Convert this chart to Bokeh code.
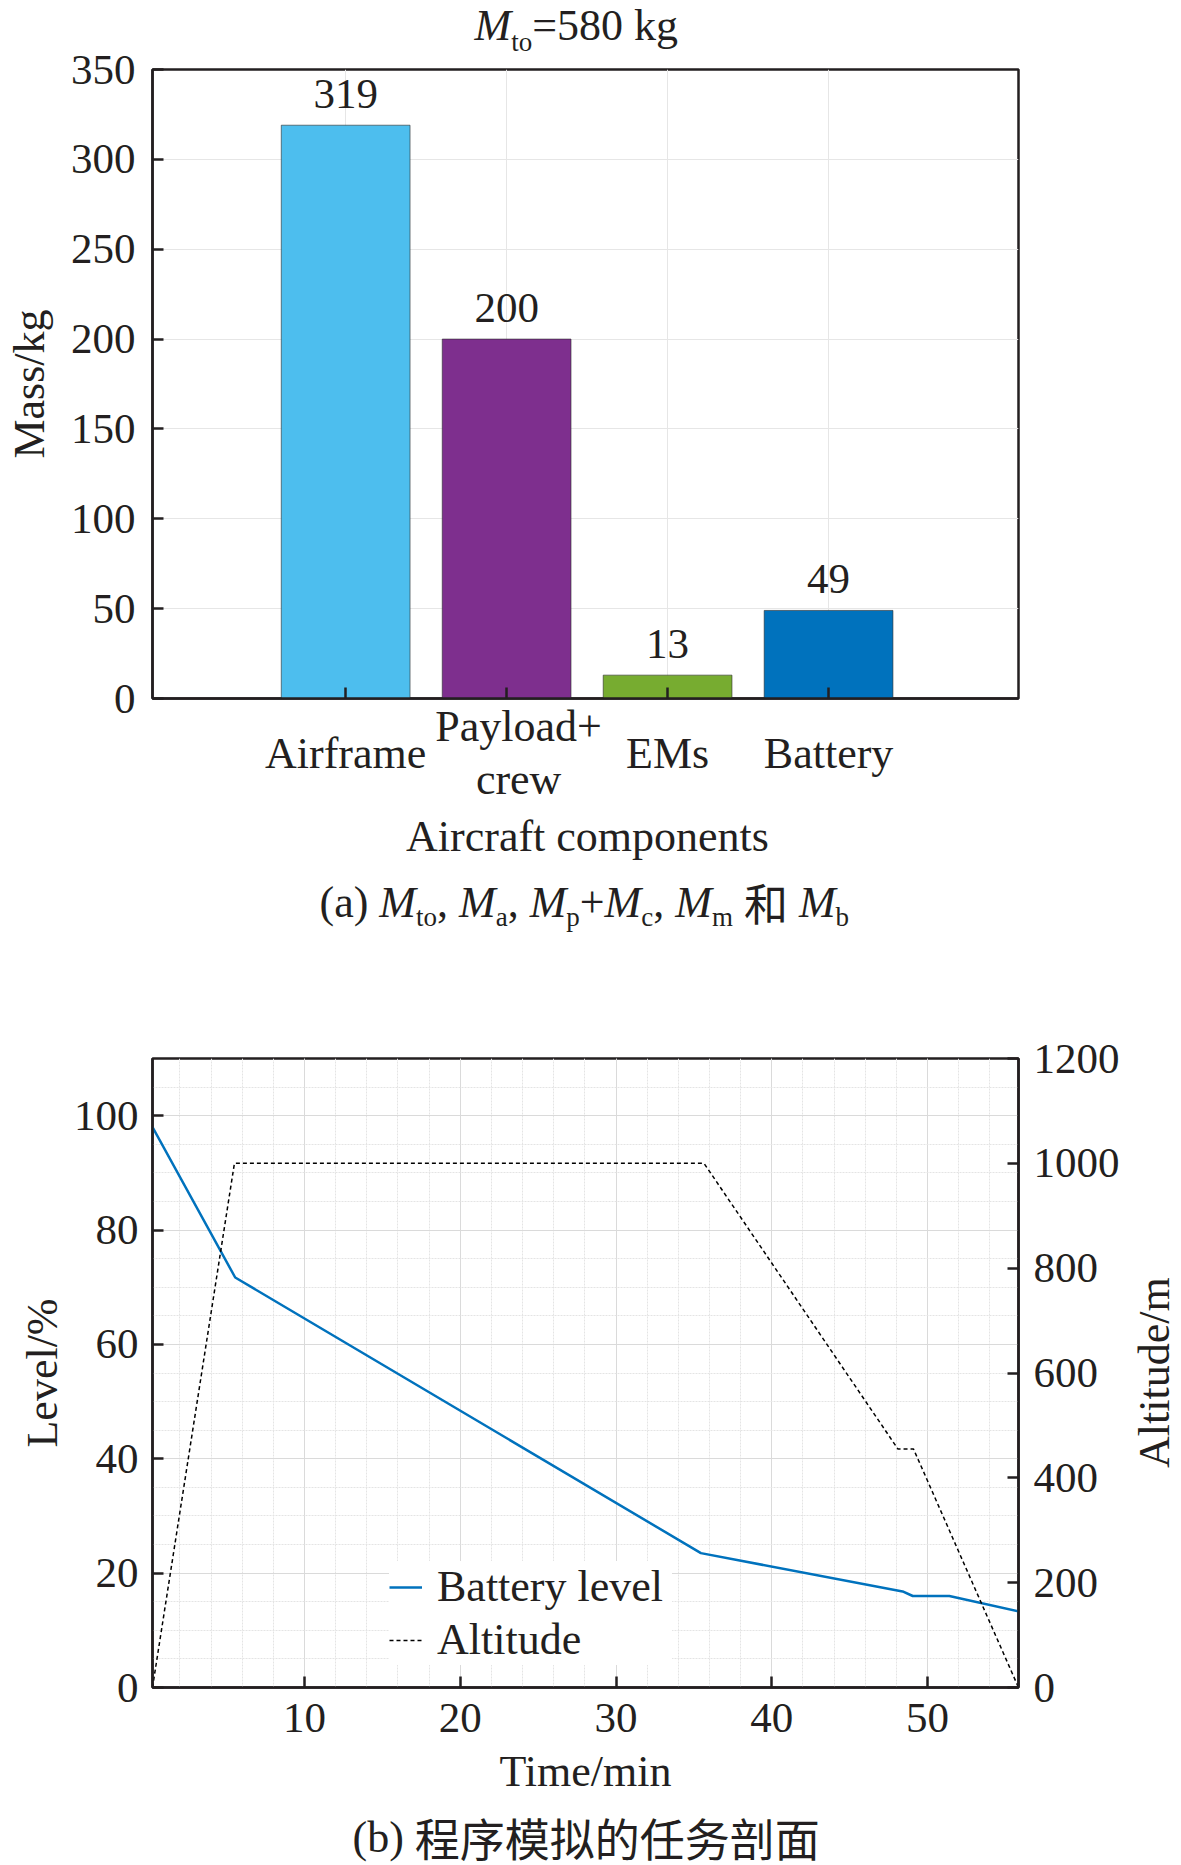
import math
from bokeh.plotting import figure
from bokeh.models import (Range1d, LinearAxis, FixedTicker, Label, Legend,
                          LegendItem, ColumnDataSource)
from bokeh.layouts import column, row
from bokeh.embed import file_html
from bokeh.resources import INLINE
from bokeh.core.properties import value

# ---------------- data: (a) mass breakdown ----------------
components = ["Airframe", "Payload+\ncrew", "EMs", "Battery"]
masses = [319, 200, 13, 49]
bar_colors = ["#4DBEEE", "#7E2F8E", "#77AC30", "#0072BD"]
mass_ticks = [0, 50, 100, 150, 200, 250, 300, 350]

# ---------------- data: (b) mission profile ----------------
time_level = [0.24, 5.55, 35.45, 48.4, 49.05, 51.4, 55.84]
battery_level = [98.0, 71.7, 23.5, 16.8, 16.0, 16.0, 13.3]
time_alt = [0.24, 5.5, 35.65, 48.1, 49.1, 55.84]
altitude = [0, 1000, 1000, 455, 455, 0]
level_ticks = [0, 20, 40, 60, 80, 100]
level_minor = [0, 5, 10, 15, 20, 25, 30, 35, 40, 45, 50, 55, 60, 65, 70, 75,
               80, 85, 90, 95, 100, 105, 110]
alt_ticks = [0, 200, 400, 600, 800, 1000, 1200]
time_ticks = [10, 20, 30, 40, 50]
time_minor = [2, 4, 6, 8, 10, 12, 14, 16, 18, 20, 22, 24, 26, 28, 30, 32, 34,
              36, 38, 40, 42, 44, 46, 48, 50, 52, 54]

INK = "#231f20"
SERIF_FONT = "Liberation Serif"
CJK_FONT = "Noto Sans CJK SC"
W = 1181
FL, FR = 152, 1018          # frame left / right (page px)
BL = 0.32                   # rendered baseline sits this many em below the given y

SERIF_W = {'(': 333, ')': 333, ' ': 250, ',': 250, '+': 564, '=': 564,
           'a': 444, 'b': 500, 'c': 444, 'g': 500, 'k': 500, 'm': 778,
           'o': 500, 'p': 500, 't': 278}
ITALIC_W = {'M': 833}


def run_width(text, kind, size):
    if kind == 'cjk':
        return len(text) * size
    table = ITALIC_W if kind == 'i' else SERIF_W
    return sum(table.get(ch, 500) for ch in text) * size / 1000.0


def add_rich(p, runs, left_page, base_page, strip_bottom, size=44,
             sub_size=27, sub_drop=9, cjk_size=44):
    """Place a run of mixed-style text; page coordinates of the baseline."""
    x = left_page - FL
    for t, k in runs:
        sz = sub_size if k == 's' else (cjk_size if k == 'cjk' else size)
        w = run_width(t, k, sz)
        if t.strip():
            base = base_page + (sub_drop if k == 's' else 0) - BL * sz
            p.add_layout(Label(
                x=x, y=strip_bottom - base,
                x_units='screen', y_units='screen', text=t,
                text_font=CJK_FONT if k == 'cjk' else SERIF_FONT,
                text_font_style='italic' if k == 'i' else 'normal',
                text_font_size=f"{sz}px",
                text_color=INK, text_align='left', text_baseline='alphabetic'))
        x += w


def style_axis(ax, label_size="43px"):
    ax.axis_line_color = INK
    ax.axis_line_width = 2.5
    ax.major_tick_line_color = INK
    ax.major_tick_line_width = 2.5
    ax.major_tick_in = 11
    ax.major_tick_out = 0
    ax.minor_tick_in = 0
    ax.minor_tick_out = 0
    ax.major_label_text_font = SERIF_FONT
    ax.major_label_text_font_size = label_size
    ax.major_label_text_color = INK
    ax.axis_label_text_font = SERIF_FONT
    ax.axis_label_text_font_size = "44px"
    ax.axis_label_text_font_style = "normal"
    ax.axis_label_text_color = INK


def strip(width, height, x_range=None, left=FL, right=None):
    s = figure(width=width, height=height,
               x_range=x_range if x_range is not None else Range1d(0, 1),
               y_range=Range1d(0, height), output_backend="svg",
               toolbar_location=None, title=None,
               x_axis_location=None, y_axis_location=None,
               min_border_left=left,
               min_border_right=(W - FR) if right is None else right,
               min_border_top=0, min_border_bottom=0)
    s.outline_line_color = None
    s.grid.visible = False
    s.background_fill_color = None
    s.border_fill_color = None
    return s


# ================= title strip (a) =================
H_T = 57
st = strip(W, H_T)
add_rich(st, [("M", 'i'), ("to", 's'), ("=580", 'n'), (" ", 'n'), ("kg", 'n')],
         474, 39.5, H_T, sub_size=27, sub_drop=11)

# ================= figure (a) =================
x_pos = [i + 1 for i in range(len(components))]
src = ColumnDataSource(dict(x=x_pos, top=masses, color=bar_colors,
                            lab=[str(m) for m in masses]))

TOP_PA = 35                 # overlaps the (transparent) title strip
BOT_PA = 724
pa = figure(width=W, height=BOT_PA - TOP_PA, x_range=Range1d(-0.2, 5.18),
            y_range=Range1d(0, 350), output_backend="svg",
            toolbar_location=None, title=None,
            min_border_left=FL, min_border_right=W - FR,
            min_border_top=69 - TOP_PA, min_border_bottom=BOT_PA - 698)
pa.margin = (TOP_PA - H_T, 0, 0, 0)
pa.outline_line_color = INK
pa.outline_line_width = 2.5
pa.background_fill_color = "white"
pa.border_fill_color = None

pa.vbar(x='x', top='top', bottom=0, width=0.8, fill_color='color',
        line_color="#2b2b2b", line_alpha=0.6, line_width=1, source=src)
pa.text(x='x', y='top', text='lab', source=src, y_offset=-31,
        text_align='center', text_baseline='alphabetic',
        text_font=value(SERIF_FONT), text_font_size="43px", text_color=INK)

ax = pa.xaxis[0]
ax.ticker = FixedTicker(ticks=x_pos)
ax.major_label_overrides = {xp: "" for xp in x_pos}
style_axis(ax, "1px")
ax.major_label_standoff = 0

ay = pa.yaxis[0]
ay.ticker = FixedTicker(ticks=mass_ticks)
style_axis(ay)
ay.major_label_standoff = 17
ay.axis_label = "Mass/kg"
ay.axis_label_standoff = 14

pa.xgrid.grid_line_color = "#e6e6e6"
pa.ygrid.grid_line_color = "#e6e6e6"

# ================= category labels + caption strip (a) =================
TOP_A = 700                 # overlaps the bottom border of figure (a)
BOT_A = 945
sa = strip(W, BOT_A - TOP_A, x_range=pa.x_range)
sa.margin = (TOP_A - BOT_PA, 0, 0, 0)
lab_x, lab_y, lab_t, lab_dx = [], [], [], []
for xp, name in zip(x_pos, components):
    lines = name.split("\n")
    for j, ln in enumerate(lines):
        base = 767 + (j - (len(lines) - 1) / 2.0) * 53
        lab_x.append(xp)
        lab_y.append(BOT_A - (base - BL * 44))
        lab_t.append(ln)
        lab_dx.append(12 if len(lines) > 1 else 0)
sa.text(x=lab_x, y=lab_y, text=lab_t, x_offset=lab_dx, text_align='center',
        text_baseline='alphabetic', text_font=value(SERIF_FONT),
        text_font_size="44px", text_color=INK)
sa.add_layout(Label(x=(FR - FL) / 2.0 + 2, y=BOT_A - (850 - BL * 44),
                    x_units='screen', y_units='screen',
                    text="Aircraft components", text_font=SERIF_FONT,
                    text_font_size="44px", text_color=INK,
                    text_align='center', text_baseline='alphabetic'))
add_rich(sa, [("(a)", 'n'), (" ", 'n'),
              ("M", 'i'), ("to", 's'), (",", 'n'), (" ", 'n'),
              ("M", 'i'), ("a", 's'), (",", 'n'), (" ", 'n'),
              ("M", 'i'), ("p", 's'), ("+", 'n'),
              ("M", 'i'), ("c", 's'), (",", 'n'), (" ", 'n'),
              ("M", 'i'), ("m", 's'), (" ", 'n'), ("和", 'cjk'), (" ", 'n'),
              ("M", 'i'), ("b", 's')],
         319, 916, BOT_A)

# ================= figure (b) =================
TOP_B = BOT_A               # 945
BOT_B = 1812
W_B = 1125
H_B = BOT_B - TOP_B
pb = figure(width=W_B, height=H_B, x_range=Range1d(0.24, 55.84),
            y_range=Range1d(0, 110), output_backend="svg",
            toolbar_location=None, title=None,
            min_border_left=FL, min_border_right=W_B - FR,
            min_border_top=1058 - TOP_B, min_border_bottom=BOT_B - 1687)
pb.outline_line_color = INK
pb.outline_line_width = 2.5
pb.background_fill_color = "white"
pb.border_fill_color = None
pb.extra_y_ranges = {"alt": Range1d(0, 1200)}

bx = pb.xaxis[0]
bx.ticker = FixedTicker(ticks=time_ticks, minor_ticks=time_minor)
style_axis(bx)
bx.major_label_standoff = 16
bx.axis_label = "Time/min"
bx.axis_label_standoff = 12

by = pb.yaxis[0]
by.ticker = FixedTicker(ticks=level_ticks, minor_ticks=level_minor)
style_axis(by)
by.major_label_standoff = 14
by.axis_label = "Level/%"
by.axis_label_standoff = 4

br = LinearAxis(y_range_name="alt", ticker=FixedTicker(ticks=alt_ticks))
style_axis(br)
br.major_label_standoff = 15
pb.add_layout(br, "right")

for g in (pb.xgrid[0], pb.ygrid[0]):
    g.grid_line_color = "#dadada"
    g.grid_line_width = 1
    g.minor_grid_line_color = "#e4e4e4"
    g.minor_grid_line_width = 1
    g.minor_grid_line_dash = "2 1"

l1 = pb.line(time_level, battery_level, line_color="#0072BD", line_width=2.5)
l2 = pb.line(time_alt, altitude, y_range_name="alt", line_color="black",
             line_width=1.5, line_dash="4 3")

leg = Legend(items=[LegendItem(label="Battery level", renderers=[l1]),
                    LegendItem(label="Altitude", renderers=[l2])],
             location=(237, 22))
leg.label_text_font = SERIF_FONT
leg.label_text_font_size = "44px"
leg.label_text_color = INK
leg.glyph_width = 33
leg.glyph_height = 20
leg.label_height = 49
leg.label_width = 235
leg.spacing = 2
leg.padding = 6
leg.margin = 0
leg.label_standoff = 15
leg.border_line_color = None
leg.background_fill_color = "white"
leg.background_fill_alpha = 1.0
pb.add_layout(leg)

# right-hand axis title, reading bottom-to-top
s_alt = strip(W - W_B, H_B, x_range=Range1d(0, W - W_B), left=0, right=0)
s_alt.text(x=[1154 - W_B], y=[BOT_B - 1378], text=["Altitude/m"],
           angle=math.pi / 2, text_align='center', text_baseline='middle',
           text_font=value(SERIF_FONT), text_font_size="44px", text_color=INK)

# ================= caption strip (b) =================
TOP_CB = 1798               # overlaps the bottom border of figure (b)
BOT_CB = 1864
sb = strip(W, BOT_CB - TOP_CB)
sb.margin = (TOP_CB - BOT_B, 0, 0, 0)
add_rich(sb, [("(b)", 'n'), (" ", 'n'), ("程序模拟的任务剖面", 'cjk')],
         352, 1851, BOT_CB, cjk_size=45)

layout = column(st, pa, sa, row(pb, s_alt), sb)
open("out.html", "w").write(file_html(layout, INLINE))
